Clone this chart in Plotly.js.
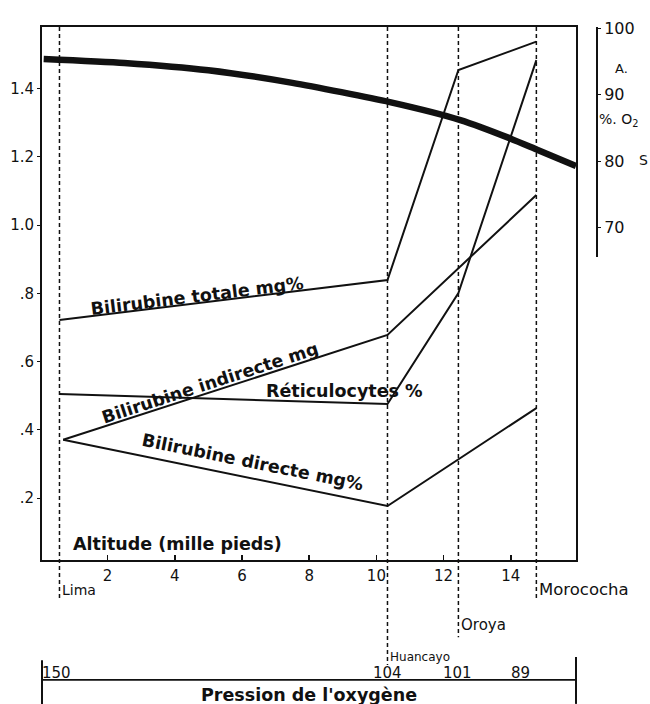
<!DOCTYPE html>
<html><head><meta charset="utf-8">
<script src="https://cdn.plot.ly/plotly-3.0.1.min.js"></script>
<style>body{margin:0;background:#fff}#c{width:650px;height:704px}</style>
</head><body><div id="c"></div>
<script>
// Sites (altitude in thousand feet) and O2 pressure
const sites = ['Lima', 'Huancayo', 'Oroya', 'Morococha'];
const siteAlt = [0.57, 10.33, 12.44, 14.76];
const pressure = ['150', '104', '101', '89'];

// Series (left axis)
const totaleX = [0.57, 10.33, 12.44, 14.76];
const totaleY = [0.722, 0.839, 1.454, 1.537];
const reticX = [0.57, 10.33, 12.44, 14.76];
const reticY = [0.505, 0.476, 0.801, 1.483];
const indirX = [0.68, 10.33, 14.76];
const indirY = [0.371, 0.678, 1.088];
const directX = [0.68, 10.33, 14.76];
const directY = [0.371, 0.177, 0.464];

// Arterial O2 saturation (right axis)
const satX = [0.1, 2.5, 5, 7.5, 10.4, 12.5, 14, 14.8, 15.94];
const satY = [95.4, 94.8, 93.7, 91.8, 88.9, 86.2, 83.4, 81.7, 79.3];

// Tick labels
const leftTicks = [0.2, 0.4, 0.6, 0.8, 1.0, 1.2, 1.4];
const leftTickText = ['.2', '.4', '.6', '.8', '1.0', '1.2', '1.4'];
const xTicks = [2, 4, 6, 8, 10, 12, 14];
const rightTicks = [70, 80, 90, 100];

const ink = '#111';
const lineStyle = {color: ink, width: 2};
const traces = [
  {x: totaleX, y: totaleY, mode: 'lines', line: lineStyle},
  {x: reticX, y: reticY, mode: 'lines', line: lineStyle},
  {x: indirX, y: indirY, mode: 'lines', line: lineStyle},
  {x: directX, y: directY, mode: 'lines', line: lineStyle},
  {x: satX, y: satY, xaxis: 'x', yaxis: 'y2', mode: 'lines', cliponaxis: false,
   line: {color: ink, width: 6.5, shape: 'spline', smoothing: 0.6}}
];

const siteBottoms = [-0.075, -0.197, -0.145, -0.075];
const shapes = [];
siteAlt.forEach((a, i) => {
  shapes.push({type: 'line', xref: 'x', yref: 'paper', x0: a, x1: a, y0: 1, y1: siteBottoms[i],
    line: {color: ink, width: 1.5, dash: '4px,3px'}});
});
// pressure scale line and end ticks
shapes.push({type: 'line', xref: 'x domain', yref: 'paper', x0: 0, x1: 1, y0: -0.225, y1: -0.225, line: {color: ink, width: 1.8}});
shapes.push({type: 'line', xref: 'x domain', yref: 'paper', x0: 0, x1: 0, y0: -0.188, y1: -0.27, line: {color: ink, width: 2}});
shapes.push({type: 'line', xref: 'x domain', yref: 'paper', x0: 1, x1: 1, y0: -0.182, y1: -0.27, line: {color: ink, width: 2}});

const lblFont = {family: 'DejaVu Sans, sans-serif', size: 17.5, color: ink};
const anns = [
  {text: '<b>Bilirubine totale mg%</b>', x: 4.67, y: 0.793, textangle: -7, font: lblFont},
  {text: '<b>Bilirubine indirecte mg</b>', x: 5.05, y: 0.537, textangle: -18, font: lblFont},
  {text: '<b>Réticulocytes %</b>', x: 9.05, y: 0.515, textangle: 0, font: lblFont},
  {text: '<b>Bilirubine directe mg%</b>', x: 6.3, y: 0.305, textangle: 11.5, font: lblFont},
  {text: '<b>Altitude (mille pieds)</b>', x: 0.9, xanchor: 'left', yref: 'paper', y: 0.03, font: lblFont},
  {text: '<b>Pression de l\'oxygène</b>', xref: 'x domain', x: 0.5, yref: 'paper', y: -0.253, font: lblFont}
];
const siteLblY = [-0.056, -0.182, -0.122, -0.056];
const siteLblSize = [14, 12, 15, 16.5];
sites.forEach((s, i) => {
  anns.push({text: s, x: siteAlt[i], xanchor: 'left', xshift: 1, yref: 'paper', y: siteLblY[i],
    font: {family: 'DejaVu Sans, sans-serif', size: siteLblSize[i], color: ink}});
});
const pShift = [-3, 0, -1, -16];
pressure.forEach((p, i) => {
  anns.push({text: p, x: siteAlt[i], xshift: pShift[i], yref: 'paper', y: -0.212,
    font: {family: 'DejaVu Sans, sans-serif', size: 15, color: ink}});
});
const rFont = {family: 'DejaVu Sans, sans-serif', size: 14, color: ink};
anns.push({text: 'A.', xref: 'paper', x: 1.028, yref: 'paper', y: 0.923, font: {family: 'DejaVu Sans, sans-serif', size: 13, color: ink}, xanchor: 'left'});
anns.push({text: '%. O<sub>2</sub>', xref: 'paper', x: 1.0, yref: 'paper', y: 0.826, font: rFont, xanchor: 'left'});
anns.push({text: 'S', xref: 'paper', x: 1.072, yref: 'paper', y: 0.75, font: rFont, xanchor: 'left'});
anns.forEach(a => {
  a.showarrow = false;
  if (!a.xref) a.xref = 'x';
  if (!a.yref) a.yref = 'y';
  if (!a.yanchor) a.yanchor = 'middle';
  if (!a.xanchor) a.xanchor = 'center';
});

const tickFont = {family: 'DejaVu Sans, sans-serif', size: 15, color: ink};
const layout = {
  width: 650, height: 704,
  margin: {l: 42, r: 53, t: 27, b: 144},
  paper_bgcolor: '#fff', plot_bgcolor: 'rgba(0,0,0,0)',
  showlegend: false,
  xaxis: {domain: [0, 0.9622], range: [0.05, 15.94], tickvals: xTicks, ticks: 'inside', ticklen: 5,
    tickcolor: ink, tickwidth: 1.5, showgrid: false, zeroline: false, showline: true, linecolor: ink,
    linewidth: 2, mirror: true, tickfont: tickFont, ticklabelstandoff: 1},
  yaxis: {domain: [0, 1], range: [0.019, 1.58], tickvals: leftTicks, ticktext: leftTickText, ticks: 'outside', ticklen: 3,
    tickcolor: ink, showgrid: false, zeroline: false, showline: true, linecolor: ink, linewidth: 2,
    mirror: true, tickfont: tickFont},
  yaxis2: {anchor: 'free', position: 1, side: 'right', domain: [0.5685, 1],
    range: [65.6, 100.2], tickvals: rightTicks, ticks: 'outside', ticklen: 3, tickcolor: ink,
    showgrid: false, zeroline: false, showline: true, linecolor: ink, linewidth: 2,
    tickfont: {family: 'DejaVu Sans, sans-serif', size: 16, color: ink}},
  shapes: shapes,
  annotations: anns
};
Plotly.newPlot('c', traces, layout, {staticPlot: true});
</script></body></html>
